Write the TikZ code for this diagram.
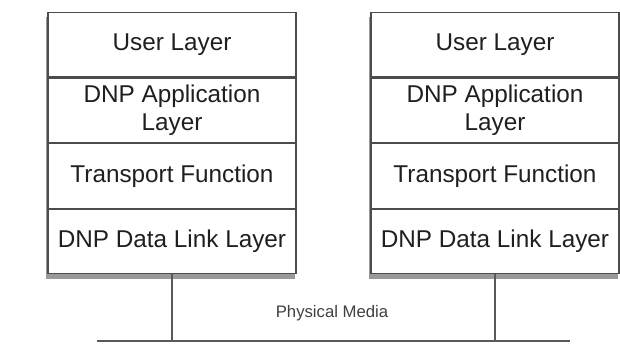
\documentclass[tikz,border=0pt]{standalone}
\usepackage{fontspec}
\setmainfont{Liberation Sans}
\usepackage{tikz}
\usetikzlibrary{positioning, fit, backgrounds, shadows}

\tikzset{
	layer/.style={draw=black!70, line width=1.1pt, minimum width=248pt, minimum height=64.5pt, inner sep=0pt, align=center, text=black!88, font=\fontsize{24.3}{27.6}\selectfont},
	stackshadow/.style={inner sep=0pt, fill=white, drop shadow={shadow xshift=-1.5pt, shadow yshift=-5pt, fill=black, opacity=0.4}},
	media/.style={draw=black!65, line width=1.2pt}
}

\begin{document}
\begin{tikzpicture}[x=1pt, y=-1pt]
				\useasboundingbox (0,0) rectangle (620,344);

				% Left protocol stack
				\node[layer, anchor=north] (luser) at (172,12) {User Layer};
				\node[layer, below=0pt of luser] (lapp) {DNP Application\\Layer};
				\node[layer, below=0pt of lapp] (ltrans) {Transport Function};
				\node[layer, below=0pt of ltrans] (llink) {DNP Data Link Layer};

				% Right protocol stack
				\node[layer, anchor=north] (ruser) at (495,12) {User Layer};
				\node[layer, below=0pt of ruser] (rapp) {DNP Application\\Layer};
				\node[layer, below=0pt of rapp] (rtrans) {Transport Function};
				\node[layer, below=0pt of rtrans] (rlink) {DNP Data Link Layer};

				% Shadows behind the stacks
				\begin{scope}[on background layer]
				\node[stackshadow, fit=(luser)(llink)] (lbox) {};
				\node[stackshadow, fit=(ruser)(rlink)] (rbox) {};
				\end{scope}

				% Physical media bus
				\coordinate (busl) at (97,341);
				\coordinate (busr) at (570,341);
				\draw[media] (busl) -- (busr);
				\draw[media] (llink.south) -- (llink.south |- busl);
				\draw[media] (rlink.south) -- (rlink.south |- busr);
				\node[text=black!75, font=\fontsize{16.7}{20}\selectfont] (phys) at (332,313) {Physical Media};
\end{tikzpicture}
\end{document}
